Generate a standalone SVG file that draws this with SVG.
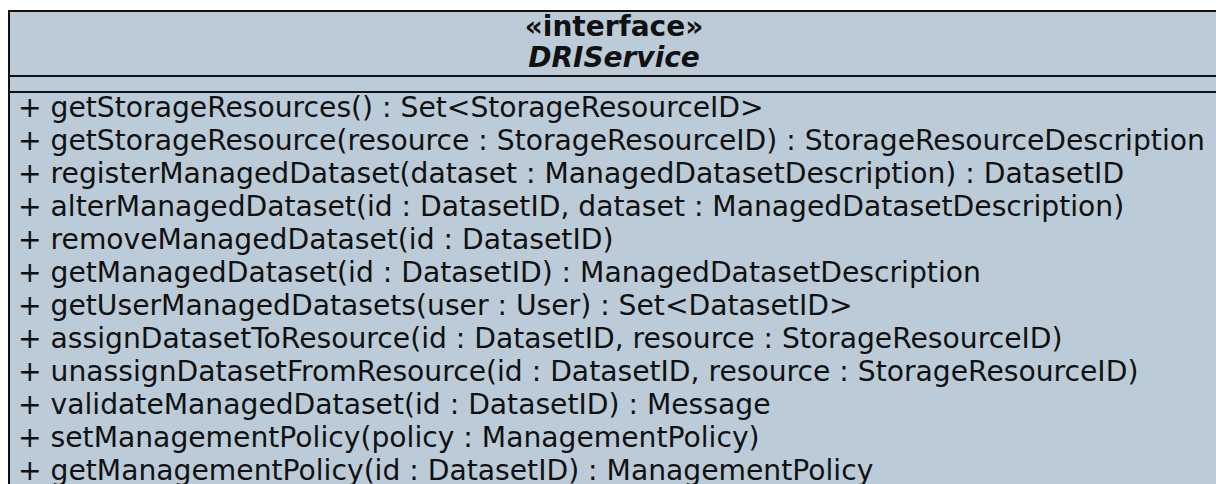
<svg xmlns="http://www.w3.org/2000/svg" width="1216" height="484" viewBox="0 0 1216 484">
  <style>
    .box { fill: #bbcbd8; stroke: #111; stroke-width: 2; }
    .sep { stroke: #111; stroke-width: 2; }
    .title { font-family: "DejaVu Sans", sans-serif; font-size: 28px; font-weight: bold; fill: #111; text-anchor: middle; }
    .op { font-family: "DejaVu Sans", sans-serif; font-size: 28.2px; fill: #111; }
  </style>
  <rect width="1216" height="484" fill="#ffffff"/>
  <!-- DRIService interface class box (continues past the right and bottom edges) -->
  <g id="DRIService">
    <rect class="box" x="9" y="11" width="1220" height="490"/>
    <line class="sep" x1="9" y1="76" x2="1229" y2="76"/>
    <line class="sep" x1="9" y1="92" x2="1229" y2="92"/>
    <text class="title" x="614" y="36">«interface»</text>
    <text class="title" x="614" y="67" font-style="italic">DRIService</text>
    <g class="op">
      <text x="18" y="117">+ getStorageResources() : Set&lt;StorageResourceID&gt;</text>
      <text x="18" y="150">+ getStorageResource(resource : StorageResourceID) : StorageResourceDescription</text>
      <text x="18" y="183">+ registerManagedDataset(dataset : ManagedDatasetDescription) : DatasetID</text>
      <text x="18" y="216">+ alterManagedDataset(id : DatasetID, dataset : ManagedDatasetDescription)</text>
      <text x="18" y="249">+ removeManagedDataset(id : DatasetID)</text>
      <text x="18" y="282">+ getManagedDataset(id : DatasetID) : ManagedDatasetDescription</text>
      <text x="18" y="315">+ getUserManagedDatasets(user : User) : Set&lt;DatasetID&gt;</text>
      <text x="18" y="348">+ assignDatasetToResource(id : DatasetID, resource : StorageResourceID)</text>
      <text x="18" y="381">+ unassignDatasetFromResource(id : DatasetID, resource : StorageResourceID)</text>
      <text x="18" y="414">+ validateManagedDataset(id : DatasetID) : Message</text>
      <text x="18" y="447">+ setManagementPolicy(policy : ManagementPolicy)</text>
      <text x="18" y="480">+ getManagementPolicy(id : DatasetID) : ManagementPolicy</text>
    </g>
  </g>
  <g id="connectors"/>
</svg>
